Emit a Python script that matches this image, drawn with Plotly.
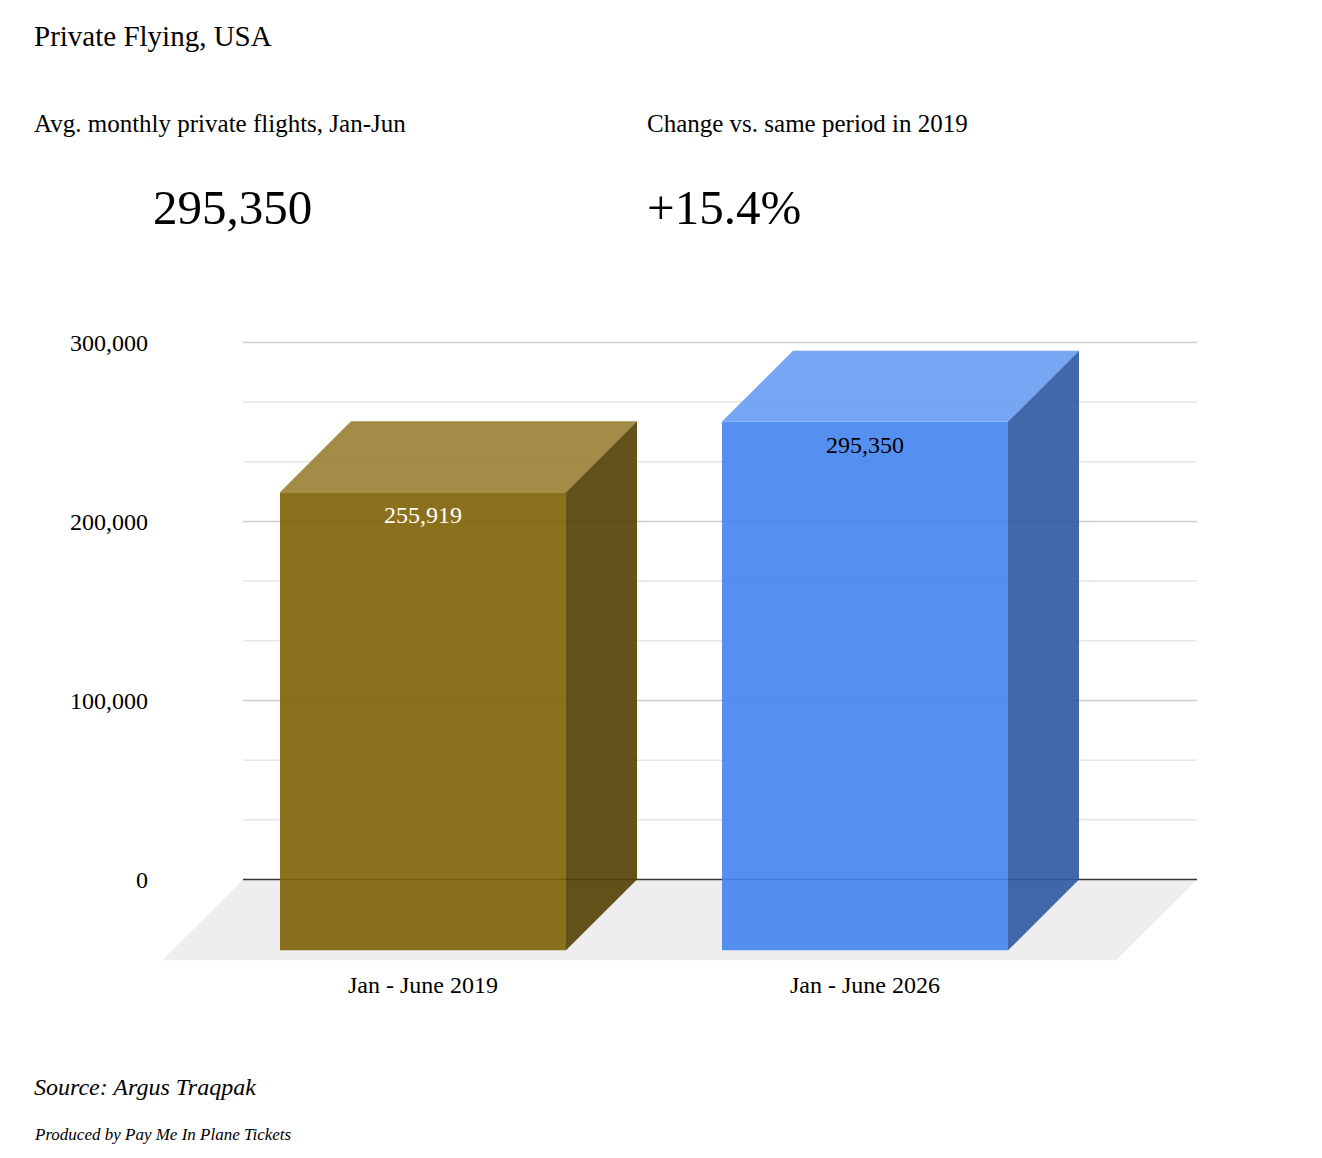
import plotly.graph_objects as go

# data
categories = ["Jan - June 2019", "Jan - June 2026"]
values = [255919, 295350]
value_labels = ["255,919", "295,350"]
ytick_vals = [0, 100000, 200000, 300000]
ytick_text = ["0", "100,000", "200,000", "300,000"]
minor_grid = [33333, 66667, 133333, 166667, 233333, 266667]

kpi_left_title = "Avg. monthly private flights, Jan-Jun"
kpi_left_value = "295,350"
kpi_right_title = "Change vs. same period in 2019"
kpi_right_value = "+15.4%"

# colours (rgba so the back lines show through a bit, like the original)
front_cols = ["rgba(126,98,5,0.9)", "rgba(67,132,238,0.9)"]
top_cols = ["rgba(153,127,52,0.9)", "rgba(102,155,242,0.9)"]
side_cols = ["rgba(82,63,3,0.9)", "rgba(43,88,162,0.9)"]
label_cols = ["white", "black"]

W, H = 1322, 1158
FONT = "Liberation Serif"
OFF = 8   # page body margin

# pixel geometry of the plot box (as seen on the page)
PX_LEFT, PX_RIGHT = 163, 1197
PX_TOP, PX_BOT = 330, 964
PX_ZERO, PX_300K = 879, 341
k = (PX_ZERO - PX_300K) / 300000.0      # px per y unit
ux = 442.0                              # px per category step
PX_CAT0 = 423                           # front-face centre of first bar

def px_x(px):
    return (px - PX_CAT0) / ux

def paper_x(px):
    return (px - OFF) / W

def paper_y(py):
    return 1 - (py - OFF) / H

y_top = (PX_ZERO - PX_TOP) / k
y_bot = -(PX_BOT - PX_ZERO) / k
x_lo, x_hi = px_x(PX_LEFT), px_x(PX_RIGHT)

bar_w = 286 / ux
DX = 71 / ux
DY = 71 / k
FDX = 81 / ux
FDY = 81 / k
back_left = px_x(243)

fig = go.Figure()

# the bars, one box each: front, top, side
for i, v in enumerate(values):
    x0, x1 = i - bar_w / 2, i + bar_w / 2
    yb, yt = -DY, v - DY
    fig.add_trace(go.Scatter(x=[x0, x1, x1, x0, x0], y=[yb, yb, yt, yt, yb],
                             fill="toself", fillcolor=front_cols[i],
                             line=dict(width=0), mode="lines", hoverinfo="skip"))
    fig.add_trace(go.Scatter(x=[x0, x1, x1 + DX, x0 + DX, x0], y=[yt, yt, v, v, yt],
                             fill="toself", fillcolor=top_cols[i],
                             line=dict(width=0), mode="lines", hoverinfo="skip"))
    fig.add_trace(go.Scatter(x=[x1, x1 + DX, x1 + DX, x1, x1], y=[yb, 0, v, yt, yb],
                             fill="toself", fillcolor=side_cols[i],
                             line=dict(width=0), mode="lines", hoverinfo="skip"))
    fig.add_annotation(x=i, y=yt, xref="x", yref="y", text=value_labels[i],
                       showarrow=False, yanchor="top", yshift=-8,
                       font=dict(family=FONT, size=24, color=label_cols[i]))

shapes = []
# floor
shapes.append(dict(type="path", xref="x", yref="y", layer="below",
                   path="M %f,0 L %f,0 L %f,%f L %f,%f Z" % (
                       back_left, x_hi, x_hi - FDX, -FDY, back_left - FDX, -FDY),
                   fillcolor="#eeeeee", line=dict(width=0)))
for g in minor_grid:
    shapes.append(dict(type="line", xref="x", yref="y", layer="below",
                       x0=back_left, x1=x_hi, y0=g, y1=g,
                       line=dict(color="#e6e6e6", width=1.5)))
for g in ytick_vals[1:]:
    shapes.append(dict(type="line", xref="x", yref="y", layer="below",
                       x0=back_left, x1=x_hi, y0=g, y1=g,
                       line=dict(color="#cccccc", width=1.5)))
shapes.append(dict(type="line", xref="x", yref="y", layer="below",
                   x0=back_left, x1=x_hi, y0=0, y1=0,
                   line=dict(color="#333333", width=1.5)))

fig.update_layout(
    width=W, height=H,
    margin=dict(l=0, r=0, t=0, b=0),
    paper_bgcolor="white", plot_bgcolor="white",
    showlegend=False,
    shapes=shapes,
    font=dict(family=FONT, color="black"),
    xaxis=dict(domain=[paper_x(PX_LEFT), paper_x(PX_RIGHT)], range=[x_lo, x_hi],
               showgrid=False, zeroline=False, showline=False,
               tickvals=list(range(len(categories))),
               ticktext=categories, tickfont=dict(family=FONT, size=24),
               ticklabelstandoff=4),
    yaxis=dict(domain=[paper_y(PX_BOT), paper_y(PX_TOP)], range=[y_bot, y_top],
               showgrid=False, zeroline=False, showline=False,
               tickvals=ytick_vals, ticktext=ytick_text,
               tickfont=dict(family=FONT, size=24), ticklabelstandoff=14),
)

# header and footer text
def note(text, px, py, size, italic=False, anchor="left"):
    fig.add_annotation(x=paper_x(px), y=paper_y(py), xref="paper", yref="paper",
                       text=text, showarrow=False, xanchor=anchor, yanchor="middle",
                       font=dict(family=FONT, size=size, color="black",
                                 style="italic" if italic else "normal"))

note("Private Flying, USA", 32, 34, 29)
note(kpi_left_title, 32, 122, 25)
note(kpi_left_value, 151, 206, 49)
note(kpi_right_title, 645, 122, 25)
note(kpi_right_value, 645, 206, 49)
note("Source: Argus Traqpak", 32, 1087, 24, italic=True)
note("Produced by Pay Me In Plane Tickets", 32, 1134, 17, italic=True)

fig.write_html("out.html")
